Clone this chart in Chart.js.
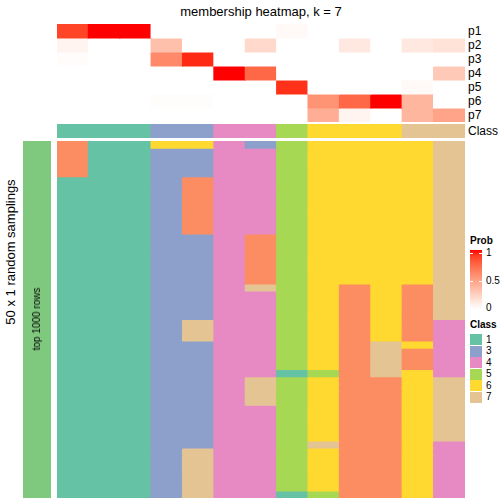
<!DOCTYPE html>
<html><head><meta charset="utf-8">
<script src="https://cdn.jsdelivr.net/npm/chart.js@4/dist/chart.umd.min.js"></script>
<style>
html,body{margin:0;padding:0;background:#fff;}
body{width:504px;height:504px;position:relative;overflow:hidden;font-family:"Liberation Sans",Arial,Helvetica,sans-serif;color:#000;}
canvas{position:absolute;}
.t{position:absolute;white-space:nowrap;line-height:1;}
.rot{transform:translate(-50%,-50%) rotate(-90deg);}
</style></head>
<body>
<canvas id="cProb" width="408" height="98" style="left:57px;top:24px;width:408px;height:98px"></canvas>
<canvas id="cClass" width="408" height="14" style="left:57px;top:124px;width:408px;height:14px"></canvas>
<canvas id="cMain" width="408" height="357" style="left:57px;top:141px;width:408px;height:357px"></canvas>
<canvas id="cLeft" width="28" height="357" style="left:23px;top:141px;width:28px;height:357px"></canvas>
<div id="labels"></div>
<script>
// ---------------- data ----------------
const columns = ['s1','s2','s3','s4','s5','s6','s7','s8','s9','s10','s11','s12','s13'];
const probRowNames = ['p1','p2','p3','p4','p5','p6','p7'];
const p1 = [0.88, 1, 1, 0, 0, 0, 0, 0.03, 0, 0, 0, 0, 0];
const p2 = [0.06, 0, 0, 0.33, 0, 0, 0.2, 0, 0, 0.12, 0, 0.12, 0.15];
const p3 = [0.015, 0, 0, 0.6, 0.95, 0, 0, 0, 0, 0, 0, 0, 0];
const p4 = [0, 0, 0, 0, 0, 1, 0.75, 0, 0, 0, 0, 0, 0.28];
const p5 = [0, 0, 0, 0, 0, 0, 0, 0.93, 0, 0, 0, 0.03, 0];
const p6 = [0, 0, 0, 0.01, 0.01, 0, 0, 0, 0.55, 0.75, 1, 0.38, 0];
const p7 = [0, 0, 0, 0, 0, 0, 0, 0, 0.42, 0.06, 0, 0.38, 0.47];
const classRow = [1, 1, 1, 3, 3, 4, 4, 5, 6, 6, 6, 7, 7];
const legendClasses = [1, 3, 4, 5, 6, 7];
const probTicks = [1, 0.5, 0];
// membership per sampling (50 rows) for each column, top to bottom
const m1  = "2222211111 1111111111 1111111111 1111111111 1111111111";
const m2  = "1111111111 1111111111 1111111111 1111111111 1111111111";
const m3  = "1111111111 1111111111 1111111111 1111111111 1111111111";
const m4  = "6333333333 3333333333 3333333333 3333333333 3333333333";
const m5  = "6333322222 2223333333 3333377733 3333333333 3337777777";
const m6  = "4444444444 4444444444 4444444444 4444444444 4444444444";
const m7  = "3444444444 4442222222 7444444444 4447777444 4444444444";
const m8  = "5555555555 5555555555 5555555555 5515555555 5555555551";
const m9  = "6666666666 6666666666 6666666666 6656666666 6676666665";
const m10 = "6666666666 6666666666 2222222222 2222222222 2222222222";
const m11 = "6666666666 6666666666 6666666677 7772222222 2222222222";
const m12 = "6666666666 6666666666 2222222262 2266666666 6666666666";
const m13 = "7777777777 7777777777 7777744444 4447777777 7744444444";

// ---------------- styling ----------------
const classColors = {1:'#66C2A5',2:'#FC8D62',3:'#8DA0CB',4:'#E78AC3',5:'#A6D854',6:'#FFD92F',7:'#E5C494'};

function probColor(v){ // white -> red interpolated in CIE Lab
  const L = 100 + (53.24-100)*v, a = 80.09*v, b = 67.20*v;
  const fy=(L+16)/116, fx=fy+a/500, fz=fy-b/200;
  const fi=t=>{const t3=t*t*t; return t3>0.008856?t3:(t-16/116)/7.787;};
  const X=0.95047*fi(fx), Y=fi(fy), Z=1.08883*fi(fz);
  let r= 3.2406*X-1.5372*Y-0.4986*Z;
  let g=-0.9689*X+1.8758*Y+0.0415*Z;
  let bl=0.0557*X-0.2040*Y+1.0570*Z;
  const gm=c=>{c=Math.max(0,Math.min(1,c)); c=c<=0.0031308?12.92*c:1.055*Math.pow(c,1/2.4)-0.055; return Math.round(c*255);};
  return `rgb(${gm(r)},${gm(g)},${gm(bl)})`;
}

function heatOptions(nRows){
  return {
    responsive:false, animation:false, devicePixelRatio:1,
    layout:{padding:0},
    plugins:{legend:{display:false}, tooltip:{enabled:false}},
    scales:{
      x:{display:false, stacked:true},
      y:{display:false, stacked:true, min:0, max:nRows, reverse:true}
    }
  };
}
function rowDataset(colors){
  return {data: colors.map(()=>1), backgroundColor: colors, borderWidth:0,
          inflateAmount:0.6, barPercentage:1, categoryPercentage:1};
}

// prob heatmap
const probRows = [p1,p2,p3,p4,p5,p6,p7];
new Chart(document.getElementById('cProb'), {
  type:'bar',
  data:{labels:columns, datasets: probRows.map(r=>rowDataset(r.map(probColor)))},
  options: heatOptions(probRows.length)
});
// class annotation
new Chart(document.getElementById('cClass'), {
  type:'bar',
  data:{labels:columns, datasets:[rowDataset(classRow.map(c=>classColors[c]))]},
  options: heatOptions(1)
});
// membership heatmap
const memberCols = [m1,m2,m3,m4,m5,m6,m7,m8,m9,m10,m11,m12,m13].map(s=>s.replace(/\s/g,'').split('').map(Number));
const nSamp = memberCols[0].length;
const mainSets = [];
for(let r=0;r<nSamp;r++){
  mainSets.push(rowDataset(memberCols.map(col=>classColors[col[r]])));
}
new Chart(document.getElementById('cMain'), {
  type:'bar',
  data:{labels:columns, datasets:mainSets},
  options: heatOptions(nSamp)
});
// left row annotation
new Chart(document.getElementById('cLeft'), {
  type:'bar',
  data:{labels:['top 1000 rows'], datasets:[rowDataset(['#7FC97F'])]},
  options: heatOptions(1)
});

// ---------------- text & legends ----------------
const L = document.getElementById('labels');
function addText(txt, css, cls){
  const d=document.createElement('div'); d.className='t'+(cls?' '+cls:''); d.textContent=txt;
  Object.assign(d.style, css); L.appendChild(d); return d;
}
addText('membership heatmap, k = 7', {left:'261px', top:'5px', fontSize:'13px', transform:'translateX(-50%)'});
probRowNames.forEach((n,i)=>addText(n,{left:'468px', top:(24+14*i+1)+'px', fontSize:'12px'}));
addText('Class',{left:'468px', top:'125px', fontSize:'12px'});
addText('50 x 1 random samplings',{left:'10px', top:'252px', fontSize:'13px'},'rot');
addText('top 1000 rows',{left:'37px', top:'319px', fontSize:'10px'},'rot');

// Prob legend
addText('Prob',{left:'470px', top:'236px', fontSize:'10px', fontWeight:'bold'});
const stops=[]; for(let i=0;i<=10;i++){ stops.push(probColor(1-i/10)+' '+(i*10)+'%'); }
const g=document.createElement('div');
Object.assign(g.style,{position:'absolute',left:'470px',top:'250px',width:'12px',height:'59px',background:'linear-gradient(to bottom,'+stops.join(',')+')'});
L.appendChild(g);
probTicks.forEach(v=>{
  const y = 253 + (1-v)*55;
  addText(String(v),{left:'486px', top:(y-5)+'px', fontSize:'10px'});
  if(v>0){
    ['470px','479px'].forEach(x=>{const t=document.createElement('div');
      Object.assign(t.style,{position:'absolute',left:x,top:y+'px',width:'3px',height:'1px',background:'#fff'}); L.appendChild(t);});
  }
});
// Class legend
addText('Class',{left:'470px', top:'320px', fontSize:'10px', fontWeight:'bold'});
legendClasses.forEach((c,i)=>{
  const y=334+11.5*i;
  const b=document.createElement('div');
  Object.assign(b.style,{position:'absolute',left:'470px',top:y+'px',width:'12px',height:'11px',background:classColors[c]});
  L.appendChild(b);
  addText(String(c),{left:'486px', top:(y+0.5)+'px', fontSize:'10px'});
});
</script>
</body></html>
